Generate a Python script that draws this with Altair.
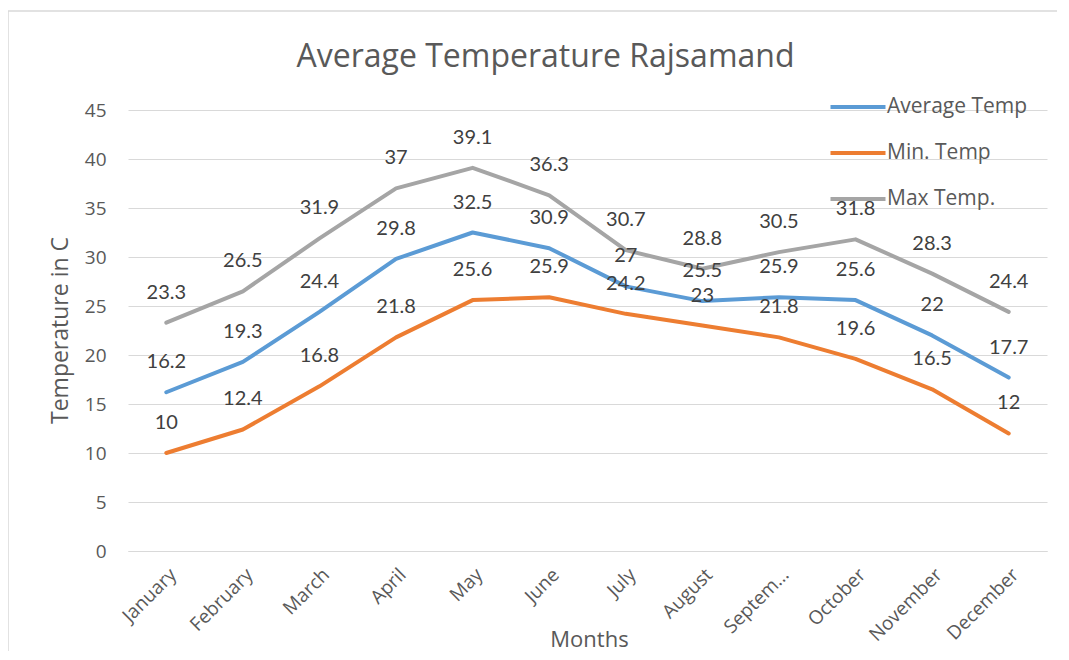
import altair as alt
import pandas as pd

months = ["January", "February", "March", "April", "May", "June", "July",
          "August", "Septem…", "October", "November", "December"]
series_names = ["Average Temp", "Min. Temp", "Max Temp."]
avg_temp = [16.2, 19.3, 24.4, 29.8, 32.5, 30.9, 27, 25.5, 25.9, 25.6, 22, 17.7]
min_temp = [10, 12.4, 16.8, 21.8, 25.6, 25.9, 24.2, 23, 21.8, 19.6, 16.5, 12]
max_temp = [23.3, 26.5, 31.9, 37, 39.1, 36.3, 30.7, 28.8, 30.5, 31.8, 28.3, 24.4]
colors = ["#5B9BD5", "#ED7D31", "#A5A5A5"]

rows = []
for name, vals in zip(series_names, [avg_temp, min_temp, max_temp]):
    for m, v in zip(months, vals):
        rows.append({"Month": m, "Series": name, "Value": v})
df = pd.DataFrame(rows)

FONT = "Open Sans"
GREY = "#595959"

x = alt.X("Month:N", sort=months, scale=alt.Scale(paddingInner=0, paddingOuter=0.5),
          axis=alt.Axis(title="Months", labelAngle=-45, labelFontSize=19, labelFont=FONT,
                        labelColor=GREY, labelPadding=14, ticks=False, domain=True,
                        domainColor="#D9D9D9", domainWidth=1, grid=False,
                        titleFont=FONT, titleFontSize=22, titleColor=GREY,
                        titleFontWeight="normal", titleX=461, titleY=88,
                        titleBaseline="middle", titleAlign="center"))
y = alt.Y("Value:Q", scale=alt.Scale(domain=[0, 45], nice=False, zero=True),
          axis=alt.Axis(title="Temperature in C", values=list(range(0, 50, 5)),
                        labelFontSize=19, labelFont=FONT, labelColor=GREY,
                        labelPadding=22, ticks=False, domain=False, gridColor="#D9D9D9",
                        gridWidth=1, titleFont=FONT, titleFontSize=23, titleColor=GREY,
                        titleFontWeight="normal", titleX=-68, titleY=220,
                        titleAngle=-90, titleBaseline="middle", titleAlign="center"))
color = alt.Color("Series:N", scale=alt.Scale(domain=series_names, range=colors),
                  legend=alt.Legend(title=None, orient="none", legendX=717, legendY=-16,
                                    symbolType="M-2.5,0H2.5", symbolSize=484,
                                    symbolStrokeWidth=4, labelOffset=16,
                                    labelFont=FONT, labelFontSize=21, labelColor=GREY,
                                    rowPadding=23, padding=0))

border = alt.Chart(pd.DataFrame({"a": [0]})).mark_rect(
    fill=None, stroke="#D9D9D9", strokeWidth=1.5
).encode(x=alt.value(-120), x2=alt.value(950), y=alt.value(-99), y2=alt.value(570))

lines = alt.Chart(df).mark_line(strokeWidth=4, strokeCap="round", strokeJoin="round").encode(
    x=x, y=y, color=color, detail="Series:N")

labels = alt.Chart(df).mark_text(font="Lato", fontSize=20, color="#404040", dy=-30,
                                 baseline="middle").encode(
    x=alt.X("Month:N", sort=months), y="Value:Q", text="Value:Q")

chart = alt.layer(border, lines, labels).properties(
    width=919, height=441,
    autosize=alt.AutoSizeParams(type="none"),
    padding={"left": 120, "top": 102, "right": 10, "bottom": 100},
    title=alt.TitleParams("Average Temperature Rajsamand", font=FONT, fontSize=32,
                          fontWeight="normal", color=GREY, anchor="middle",
                          frame="group", dx=-42, dy=68),
).configure_view(stroke=None)

chart.save("out.html", embed_options={"renderer": "svg", "actions": False})
